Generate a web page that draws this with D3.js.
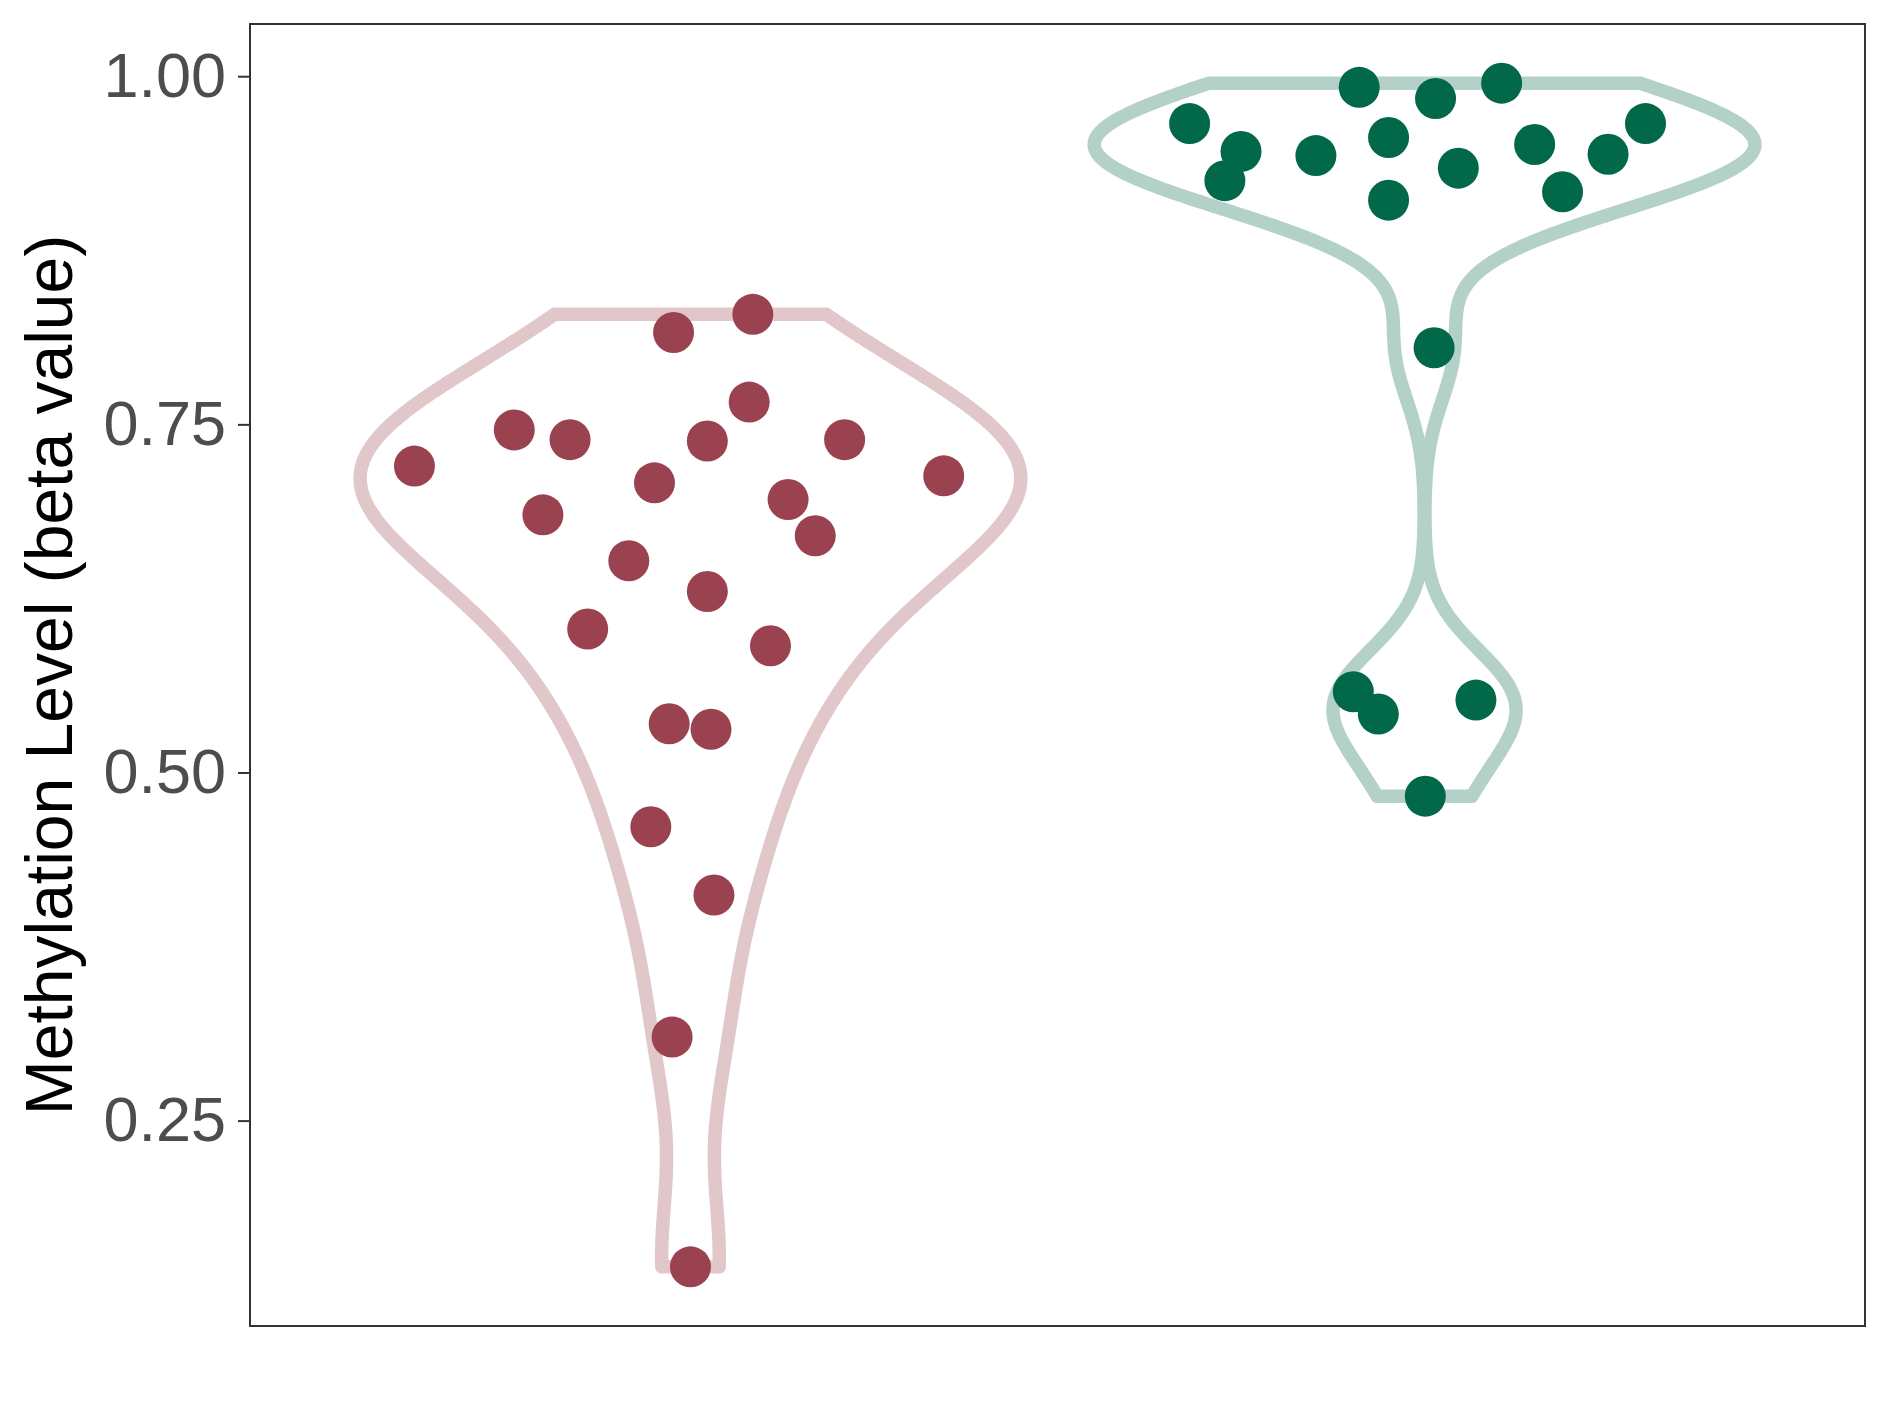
<!DOCTYPE html>
<html><head><meta charset="utf-8">
<script src="https://cdn.jsdelivr.net/npm/d3@7"></script>
<style>body{margin:0;background:#fff}</style>
</head><body><svg id="chart" width="1889" height="1417"></svg>
<script>
// ---- data ----
const categories = ["Group 1", "Group 2"];
const dotColors = ["#9B4250", "#02684A"];
const valuesG1 = [0.829, 0.816, 0.766, 0.746, 0.739, 0.738, 0.739, 0.720, 0.713, 0.708, 0.696, 0.685,
  0.670, 0.652, 0.630, 0.603, 0.591, 0.535, 0.531, 0.461, 0.412, 0.310, 0.145];
const jitterG1 = [0.085, -0.023, 0.080, -0.240, -0.164, 0.023, 0.210, -0.376, 0.345, -0.049, 0.133, -0.201,
  0.170, -0.084, 0.023, -0.140, 0.109, -0.029, 0.028, -0.054, 0.032, -0.025, 0.000];
const valuesG2 = [0.992, 0.984, 0.995, 0.966, 0.966, 0.946, 0.956, 0.943, 0.951, 0.944, 0.934, 0.925,
  0.917, 0.911, 0.805, 0.558, 0.542, 0.552, 0.483];
const jitterG2 = [-0.089, 0.015, 0.105, -0.320, 0.301, -0.250, -0.049, -0.148, 0.150, 0.250, 0.046, -0.272,
  0.188, -0.049, 0.013, -0.097, -0.063, 0.070, 0.001];
const yTicks = [0.25, 0.50, 0.75, 1.00];
const yTitle = "Methylation Level (beta value)";

// ---- layout ----
const svg = d3.select("#chart");
const panel = {left: 250, top: 24, right: 1865, bottom: 1326};
const groups = [
  {name: categories[0], values: valuesG1, jitter: jitterG1, color: dotColors[0]},
  {name: categories[1], values: valuesG2, jitter: jitterG2, color: dotColors[1]}
];
const all = valuesG1.concat(valuesG2);
const [mn, mx] = d3.extent(all);
const pad = (mx - mn) * 0.05;
const y = d3.scaleLinear().domain([mn - pad, mx + pad]).range([panel.bottom, panel.top]);
const x = d3.scalePoint().domain(categories).range([panel.left, panel.right]).padding(0.6);
const step = x.step();

function bwNrd0(arr) {
  const s = arr.slice().sort(d3.ascending);
  const sd = d3.deviation(s);
  const iqr = d3.quantileSorted(s, 0.75) - d3.quantileSorted(s, 0.25);
  let lo = Math.min(sd, iqr / 1.34);
  if (!(lo > 0)) lo = sd || 1;
  return 0.9 * lo * Math.pow(s.length, -0.2);
}
function kde(arr) {
  const bw = bwNrd0(arr);
  const [a, b] = d3.extent(arr);
  const n = 512, out = [];
  for (let i = 0; i < n; i++) {
    const v = a + (b - a) * i / (n - 1);
    let d = 0;
    for (const xi of arr) { const z = (v - xi) / bw; d += Math.exp(-0.5 * z * z); }
    out.push({v, d: d / (arr.length * bw * Math.sqrt(2 * Math.PI))});
  }
  return out;
}

// violins
groups.forEach(g => {
  const dens = kde(g.values);
  const maxD = d3.max(dens, d => d.d);
  const w = d3.scaleLinear().domain([0, maxD]).range([0, 0.45 * step]);
  const cx = x(g.name);
  const area = d3.area()
    .y(d => y(d.v))
    .x0(d => cx - w(d.d))
    .x1(d => cx + w(d.d));
  svg.append("path").attr("d", area(dens))
    .attr("fill", "none")
    .attr("stroke", g.color).attr("stroke-opacity", 0.3)
    .attr("stroke-width", 13.5).attr("stroke-linejoin", "round");
});

// points
groups.forEach(g => {
  const cx = x(g.name);
  svg.append("g").selectAll("circle").data(g.values).join("circle")
    .attr("cx", (d, i) => cx + g.jitter[i] * step)
    .attr("cy", d => y(d))
    .attr("r", 20.5)
    .attr("fill", g.color);
});

// frame
svg.append("rect").attr("x", panel.left).attr("y", panel.top)
  .attr("width", panel.right - panel.left).attr("height", panel.bottom - panel.top)
  .attr("fill", "none").attr("stroke", "#333333").attr("stroke-width", 2);

// y axis
const yAxis = d3.axisLeft(y).tickValues(yTicks).tickFormat(d3.format(".2f")).tickSize(12).tickPadding(12);
const ga = svg.append("g").attr("transform", `translate(${panel.left},0)`).call(yAxis);
ga.select(".domain").remove();
ga.selectAll(".tick line").attr("stroke", "#333333").attr("stroke-width", 2);
ga.selectAll(".tick text").attr("fill", "#4D4D4D")
  .style("font-family", "'Liberation Sans', Arial, sans-serif").style("font-size", "63px");

// y title
svg.append("text")
  .attr("transform", `translate(72,${(panel.top + panel.bottom) / 2}) rotate(-90)`)
  .attr("text-anchor", "middle")
  .style("font-family", "'Liberation Sans', Arial, sans-serif").style("font-size", "66px")
  .attr("fill", "#000").text(yTitle);
</script></body></html>
